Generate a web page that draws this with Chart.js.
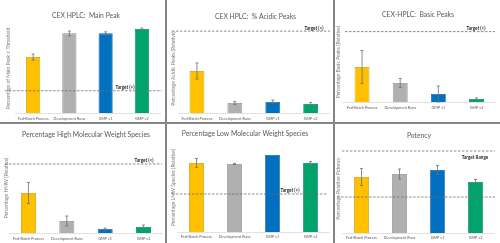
<!DOCTYPE html>
<html>
<head>
<meta charset="utf-8">
<script src="https://cdn.jsdelivr.net/npm/chart.js@4.4.0/dist/chart.umd.min.js"></script>
<style>
  html, body { margin: 0; padding: 0; background: #fff; }
  #wrap { position: relative; width: 500px; height: 243px; overflow: hidden; }
  .panel { position: absolute; }
  .sep { position: absolute; background: #858585; }
</style>
</head>
<body>
<div id="wrap">
  <div class="panel" style="left:0px;top:0px"><canvas id="c1" width="164" height="121"></canvas></div>
  <div class="panel" style="left:167px;top:0px"><canvas id="c2" width="165" height="121"></canvas></div>
  <div class="panel" style="left:335px;top:0px"><canvas id="c3" width="165" height="118"></canvas></div>
  <div class="panel" style="left:0px;top:124px"><canvas id="c4" width="164" height="119"></canvas></div>
  <div class="panel" style="left:167px;top:124px"><canvas id="c5" width="165" height="119"></canvas></div>
  <div class="panel" style="left:335px;top:124px"><canvas id="c6" width="165" height="119"></canvas></div>
  <div class="sep" style="left:165px;top:0;width:1.5px;height:243px"></div>
  <div class="sep" style="left:333px;top:0;width:1.5px;height:243px"></div>
  <div class="sep" style="left:0;top:122px;width:500px;height:1.5px"></div>
</div>
<script>
// categories shared by all six panels
const categories = ['Fed-Batch Process', 'Development Runs', 'GMP v1', 'GMP v2'];

// values (relative scale 0-100 per panel)
const mainPeak = [62.9, 89.5, 89.5, 94.4];
const mainPeakErr = [3.4, 2.6, 1.7, 1.1];
const mainPeakTarget = [25];

const acidicPeaks = [47.2, 11.2, 12.4, 10.1];
const acidicPeaksErr = [9, 1.7, 2.2, 1.7];
const acidicPeaksTarget = [92];

const basicPeaks = [43.8, 23.8, 10, 3.8];
const basicPeaksErr = [20.6, 5.6, 10, 1.3];
const basicPeaksTarget = [88];

const hmwSpecies = [44.4, 13.3, 4.4, 6.7];
const hmwErr = [11.7, 5.6, 1.1, 2.2];
const hmwTarget = [76.7];

const lmwSpecies = [77.5, 76.4, 86.5, 77.5];
const lmwErr = [5, 0.6, 0, 1.7];
const lmwTarget = [42.7];

const potency = [62.9, 66.3, 70.8, 57.3];
const potencyErr = [9.6, 5.6, 5.1, 2.8];
const potencyTarget = [92.1, 40.4];

const FONT = 'Lato, "Open Sans", sans-serif';
const fillColors = ['#FFC000', '#B0B0B0', '#0070C0', '#00A36C'];
const edgeColors = ['#C99700', '#8A8A8A', '#1F5C9E', '#00805A'];

// draws the error whiskers from dataset.errors
const errorBars = {
  id: 'errorBars',
  afterDatasetsDraw(chart) {
    const ds = chart.data.datasets[0];
    const meta = chart.getDatasetMeta(0);
    const y = chart.scales.y;
    const ctx = chart.ctx;
    ctx.save();
    ctx.strokeStyle = '#707070';
    ctx.lineWidth = 0.8;
    meta.data.forEach((bar, i) => {
      const e = ds.errors[i];
      if (!e) return;
      const top = y.getPixelForValue(ds.data[i] + e);
      const bot = y.getPixelForValue(ds.data[i] - e);
      ctx.beginPath();
      ctx.moveTo(bar.x, top); ctx.lineTo(bar.x, bot);
      ctx.moveTo(bar.x - 1.5, top); ctx.lineTo(bar.x + 1.5, top);
      ctx.moveTo(bar.x - 1.5, bot); ctx.lineTo(bar.x + 1.5, bot);
      ctx.stroke();
    });
    ctx.restore();
  }
};

// dashed target lines, their label and the panel title
function panelDecor(title, cfg, g) {
  return {
    id: 'panelDecor',
    afterDatasetsDraw(chart) {
      const y = chart.scales.y;
      const ctx = chart.ctx;
      ctx.save();
      ctx.strokeStyle = '#6e6e6e';
      ctx.lineWidth = 0.8;
      ctx.setLineDash([2.5, 1.5]);
      cfg.values.forEach((v, i) => {
        const py = y.getPixelForValue(v);
        ctx.beginPath();
        ctx.moveTo(cfg.from[i], py);
        ctx.lineTo(cfg.to, py);
        ctx.stroke();
      });
      ctx.setLineDash([]);
      ctx.fillStyle = '#262626';
      ctx.font = 'bold 4.6px ' + FONT;
      ctx.textAlign = 'center';
      const ly = y.getPixelForValue(cfg.values[0]);
      if (cfg.below) {
        ctx.textBaseline = 'top';
        ctx.fillText(cfg.label, cfg.labelX, ly + 4);
      } else {
        ctx.textBaseline = 'bottom';
        ctx.fillText(cfg.label, cfg.labelX, ly - 0.8);
      }
      ctx.fillStyle = '#595959';
      ctx.font = '6.8px ' + FONT;
      ctx.textBaseline = 'middle';
      ctx.fillText(title, g.titleX, g.titleY);
      ctx.restore();
    }
  };
}

function makePanel(id, title, yTitle, values, errs, target, g) {
  const canvas = document.getElementById(id);
  const W = canvas.width, H = canvas.height;
  return new Chart(canvas, {
    type: 'bar',
    data: {
      labels: categories,
      datasets: [{
        data: values,
        errors: errs,
        backgroundColor: fillColors,
        borderColor: edgeColors,
        borderWidth: 0.8,
        barPercentage: 0.39,
        categoryPercentage: 1
      }]
    },
    options: {
      responsive: false,
      animation: false,
      layout: { padding: { left: 0, top: g.top, right: W - g.right, bottom: 0 } },
      plugins: {
        legend: { display: false },
        tooltip: { enabled: false }
      },
      scales: {
        x: {
          grid: { display: false, drawTicks: false },
          border: { display: true, color: '#d9d9d9', width: 0.8 },
          ticks: {
            color: '#595959', font: { family: FONT, size: 3.8 },
            padding: g.tickPad, maxRotation: 0, autoSkip: false
          },
          afterFit(scale) { scale.height = H - g.bottom; }
        },
        y: {
          min: 0, max: 100,
          grid: { display: false, drawTicks: false },
          border: { display: false },
          ticks: { display: false },
          title: {
            display: true, text: yTitle, color: '#808080',
            font: { family: FONT, size: 5, lineHeight: 1.2 },
            padding: { top: g.yTitleX - 3, bottom: 0 }
          },
          afterFit(scale) { scale.width = g.left; }
        }
      }
    },
    plugins: [errorBars, panelDecor(title, target, g)]
  });
}

makePanel('c1', 'CEX HPLC:  Main Peak', 'Percentage of Main Peak \u2265 Threshold',
  mainPeak, mainPeakErr,
  { values: mainPeakTarget, from: [5], to: 162, label: 'Target (>)', labelX: 125 },
  { titleX: 86, titleY: 16, top: 24, bottom: 113, left: 15, right: 160, yTitleX: 8, tickPad: 3 });

makePanel('c2', 'CEX HPLC:  % Acidic Peaks', 'Percentage Acidic Peaks (Relative)',
  acidicPeaks, acidicPeaksErr,
  { values: acidicPeaksTarget, from: [5], to: 163, label: 'Target (<)', labelX: 147 },
  { titleX: 88.5, titleY: 17, top: 24, bottom: 113, left: 11, right: 162.6, yTitleX: 6, tickPad: 3 });

makePanel('c3', 'CEX-HPLC:  Basic Peaks', 'Percentage Basic Peaks (Relative)',
  basicPeaks, basicPeaksErr,
  { values: basicPeaksTarget, from: [10], to: 160, label: 'Target (<)', labelX: 141 },
  { titleX: 83, titleY: 15, top: 22, bottom: 102, left: 8, right: 160.6, yTitleX: 3, tickPad: 3.5 });

makePanel('c4', 'Percentage High Molecular Weight Species', 'Percentage HMW (Relative)',
  hmwSpecies, hmwErr,
  { values: hmwTarget, from: [5], to: 162, label: 'Target (<)', labelX: 144 },
  { titleX: 86, titleY: 11, top: 19, bottom: 109, left: 9.3, right: 162.7, yTitleX: 6, tickPad: 3.5 });

makePanel('c5', 'Percentage Low Molecular Weight Species', 'Percentage LMW Species (Relative)',
  lmwSpecies, lmwErr,
  { values: lmwTarget, from: [5], to: 161, label: 'Target (>)', labelX: 123 },
  { titleX: 78, titleY: 10, top: 19, bottom: 108, left: 10.5, right: 162.5, yTitleX: 6, tickPad: 2.7 });

makePanel('c6', 'Potency', 'Percentage Relative Potency',
  potency, potencyErr,
  { values: potencyTarget, from: [7, 2], to: 160, label: 'Target Range', labelX: 140, below: true },
  { titleX: 84, titleY: 12, top: 20, bottom: 109, left: 7.5, right: 159.5, yTitleX: 3, tickPad: 2.7 });
</script>
</body>
</html>
